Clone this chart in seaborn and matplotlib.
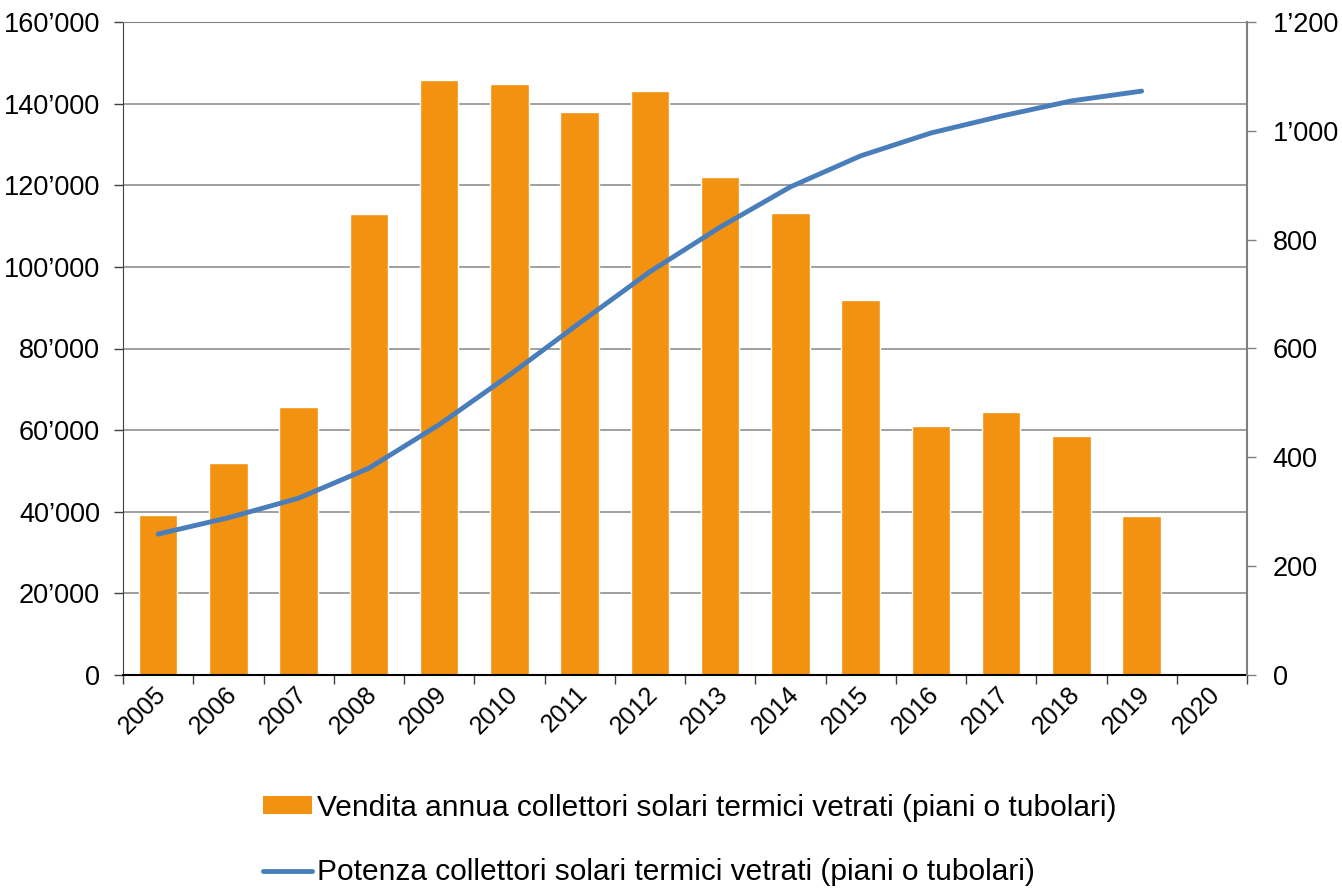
import numpy as np
import pandas as pd
import seaborn as sns
import matplotlib.pyplot as plt
import matplotlib.transforms as mtransforms
from matplotlib.patches import Patch
from matplotlib.lines import Line2D
from matplotlib.ticker import FuncFormatter, MultipleLocator, FixedLocator

# Data
years = ['2005', '2006', '2007', '2008', '2009', '2010', '2011', '2012',
         '2013', '2014', '2015', '2016', '2017', '2018', '2019', '2020']
vendita = [39200, 51900, 65700, 112900, 145800, 144800, 138000, 143000,
           122000, 113200, 91800, 61000, 64500, 58600, 39000, np.nan]
potenza = [259, 289, 325, 380, 460, 551, 647, 741,
           823, 897, 954, 996, 1027, 1055, 1073, np.nan]

label_bar = 'Vendita annua collettori solari termici vetrati (piani o tubolari)'
label_line = 'Potenza collettori solari termici vetrati (piani o tubolari)'

df = pd.DataFrame({'anno': years, 'vendita': vendita, 'potenza': potenza})
df['pos'] = np.arange(len(df))

orange = '#F39110'
blue = '#4A7EBB'

sns.set_style('white')
plt.rcParams['font.family'] = ['Liberation Sans', 'DejaVu Sans']
plt.rcParams['text.color'] = 'black'
plt.rcParams['xtick.labelcolor'] = 'black'
plt.rcParams['ytick.labelcolor'] = 'black'

fig = plt.figure(figsize=(13.42, 8.89), dpi=100)
ax = fig.add_axes([123 / 1342, 1 - 675 / 889, (1247 - 123) / 1342, (675 - 22) / 889])

sns.barplot(data=df, x='anno', y='vendita', order=years, color=orange,
            width=0.55, saturation=1, ax=ax, zorder=2)

ax2 = ax.twinx()
sns.lineplot(data=df.dropna(), x='pos', y='potenza', color=blue, linewidth=3.5,
             ax=ax2, zorder=3)

def apos(v, p):
    return f'{int(v):,}'.replace(',', '\u2019')

# left axis
ax.set_ylim(0, 160000)
ax.yaxis.set_major_locator(MultipleLocator(20000))
ax.yaxis.set_major_formatter(FuncFormatter(apos))
ax.grid(axis='y', color='#858585', linewidth=1.1)
ax.set_axisbelow(True)
ax.set_xlim(-0.5, len(years) - 0.5)

# right axis
ax2.set_ylim(0, 1200)
ax2.yaxis.set_major_locator(MultipleLocator(200))
ax2.yaxis.set_major_formatter(FuncFormatter(apos))
ax2.set_xlim(-0.5, len(years) - 0.5)

# x ticks: labels centred, marks between categories
ax.set_xticks(np.arange(len(years)))
ax.set_xticklabels(years, rotation=45, ha='right', rotation_mode='anchor')
ax.xaxis.set_minor_locator(FixedLocator(np.arange(-0.5, len(years), 1)))
ax.tick_params(axis='x', which='major', length=0, pad=5, labelsize=18,
               labelcolor='black')
ax.tick_params(axis='x', which='minor', length=6.5, width=1, color='#404040',
               direction='out', bottom=True)
ax.tick_params(axis='y', length=6.5, width=1, color='#404040', direction='out',
               left=True, labelsize=19.5, pad=10, labelcolor='black')
ax2.tick_params(axis='y', length=6.5, width=1, color='#808080', direction='out',
                right=True, labelsize=19.5, pad=12, labelcolor='black')
shift = mtransforms.ScaledTranslation(-4 / 100, 0, fig.dpi_scale_trans)
for lbl in ax.get_xticklabels():
    lbl.set_transform(lbl.get_transform() + shift)

for a in (ax, ax2):
    a.set_xlabel('')
    a.set_ylabel('')
ax.spines['left'].set_color('#404040')
ax.spines['bottom'].set_color('black')
ax.spines['bottom'].set_linewidth(1.5)
ax.spines['top'].set_color('#858585')
ax.spines['right'].set_visible(False)
ax2.spines['right'].set_color('#808080')
ax2.spines['right'].set_linewidth(1.5)
ax2.spines['top'].set_visible(False)
ax2.spines['left'].set_visible(False)
ax2.spines['bottom'].set_visible(False)

handles = [Patch(facecolor=orange, edgecolor='none'),
           Line2D([0], [0], color=blue, linewidth=3.5)]
fig.legend(handles, [label_bar, label_line], loc='upper left',
           bbox_to_anchor=(263 / 1342, 1 - 794 / 889), frameon=False,
           fontsize=21.5, handlelength=1.65, handleheight=0.55, handletextpad=0.17,
           labelspacing=1.22, borderpad=0, borderaxespad=0, labelcolor='black')

fig.savefig('out.png', dpi=100)
